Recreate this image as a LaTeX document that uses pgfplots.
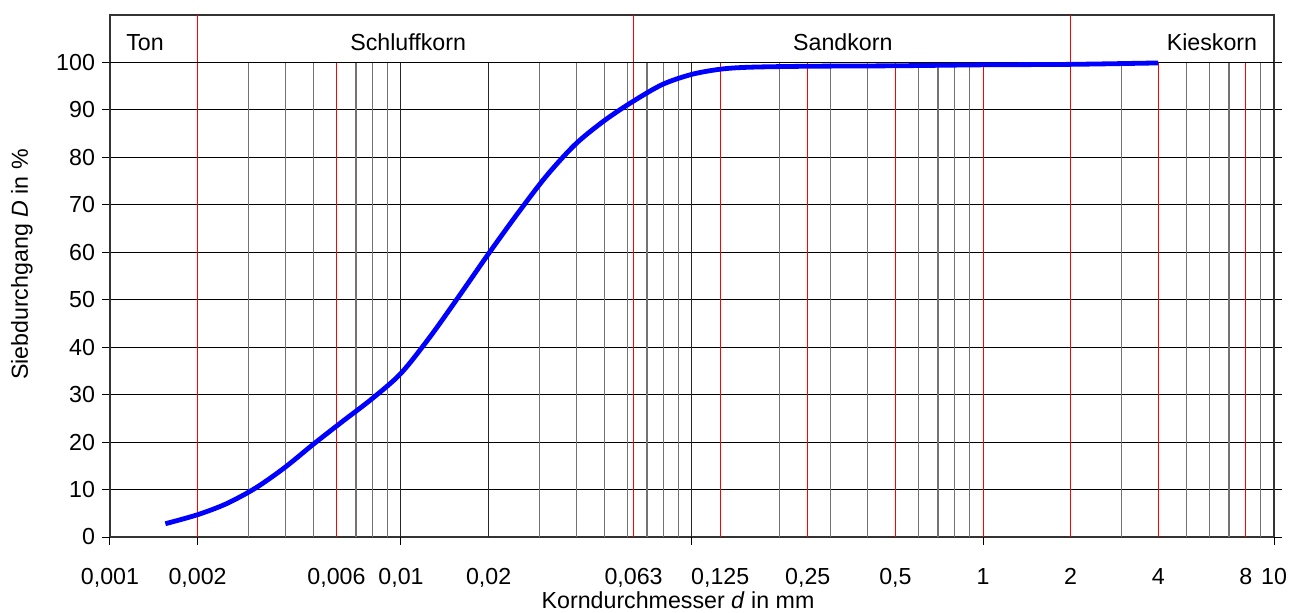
\documentclass[border=0pt]{standalone}
\usepackage{fontspec}
\setmainfont{Liberation Sans}
\usepackage{pgfplots}
\usepackage{pgfplotstable}
\pgfplotsset{compat=1.18}

% Kornverteilung, Siebdurchgang über Korndurchmesser
\pgfplotstableread{
d       D
0.00155 2.8
0.002   4.7
0.00251 7.0
0.00316 10.3
0.00398 14.6
0.00501 19.6
0.00631 24.4
0.00794 29.1
0.01    34.5
0.01259 42.2
0.01585 50.8
0.01995 59.6
0.02512 68.1
0.03162 76.1
0.03981 82.8
0.05012 87.8
0.0631  91.9
0.0794  95.4
0.1     97.5
0.1259  98.6
0.1585  99.0
0.25    99.2
0.5     99.3
1       99.5
2       99.6
4       99.9
}\kurve

\begin{document}
\begin{tikzpicture}[font=\fontsize{11.6}{13.5}\selectfont]
\begin{axis}[
  scale only axis,
  width=582pt, height=261pt,
  xmode=log,
  xmin=0.001, xmax=10,
  ymin=0, ymax=110,
  axis line style={black!80, line width=1pt},
  /pgf/number format/assume math mode=true,
  ytick={0,10,...,100},
  ymajorgrids,
  major grid style={black, line width=0.5pt},
  ytick style={black, line width=0.5pt},
  tick align=outside,
  major tick length=4pt,
  xtick={0.001,0.002,0.006,0.01,0.02,0.063,0.125,0.25,0.5,1,2,4,8,10},
  xticklabels={{0,001},{0,002},{0,006},{0,01},{0,02},{0,063},{0,125},{0,25},{0,5},1,2,4,8,10},
  xtick style={draw=none},
  xticklabel style={yshift=-8pt},
  minor xtick={},
  xlabel={Korndurchmesser \textit{d} in mm},
  xlabel style={at={(axis description cs:0.488,0)}, anchor=center, yshift=-31.5pt},
  ylabel={Siebdurchgang \textit{D} in \%},
  ylabel style={at={(axis description cs:-0.0756,0.522)}, anchor=center},
  clip=false,
]
% Raster
\pgfplotsinvokeforeach{0.003,0.004,0.005,0.007,0.008,0.009,
  0.03,0.04,0.05,0.06,0.07,0.08,0.09,0.2,0.3,0.4,0.6,0.7,0.8,0.9,
  3,5,6,7,9}{
  \draw[black!55, line width=0.6pt] (axis cs:#1,0) -- (axis cs:#1,100);
}
\pgfplotsinvokeforeach{0.01,0.02,0.1}{
  \draw[black!85, line width=0.5pt] (axis cs:#1,0) -- (axis cs:#1,100);
}
\pgfplotsinvokeforeach{0.006,0.125,0.25,0.5,1,4,8}{
  \draw[red, line width=0.5pt] (axis cs:#1,0) -- (axis cs:#1,100);
}
\pgfplotsinvokeforeach{0.002,0.063,2}{
  \draw[red, line width=0.5pt] (axis cs:#1,0) -- (axis cs:#1,110);
}
\draw[black, line width=0.5pt] (axis cs:0.001,100) -- (axis cs:10,100);
% Teilstriche unter der Achse
\pgfplotsinvokeforeach{0.001,0.002,0.01,0.1,1,10}{
  \draw[black, line width=0.5pt] (axis cs:#1,0) -- ([yshift=-4pt]axis cs:#1,0);
}

\addplot[blue, line width=2.4pt, smooth, no markers] table[x=d, y=D] {\kurve};

\node at (axis cs:0.00132,104.2) {Ton};
\node at (axis cs:0.01058,104.2) {Schluffkorn};
\node at (axis cs:0.330,104.2) {Sandkorn};
\node at (axis cs:6.12,104.2) {Kieskorn};

\coordinate (sw) at (rel axis cs:0,0);
\coordinate (ne) at (rel axis cs:1,1);
\end{axis}
\pgfresetboundingbox
\path (sw) ++(-55pt,-37.5pt) coordinate (bl);
\path (ne) ++(10.5pt,7.5pt) coordinate (tr);
\path[use as bounding box] (bl) rectangle (tr);
\end{tikzpicture}
\end{document}
